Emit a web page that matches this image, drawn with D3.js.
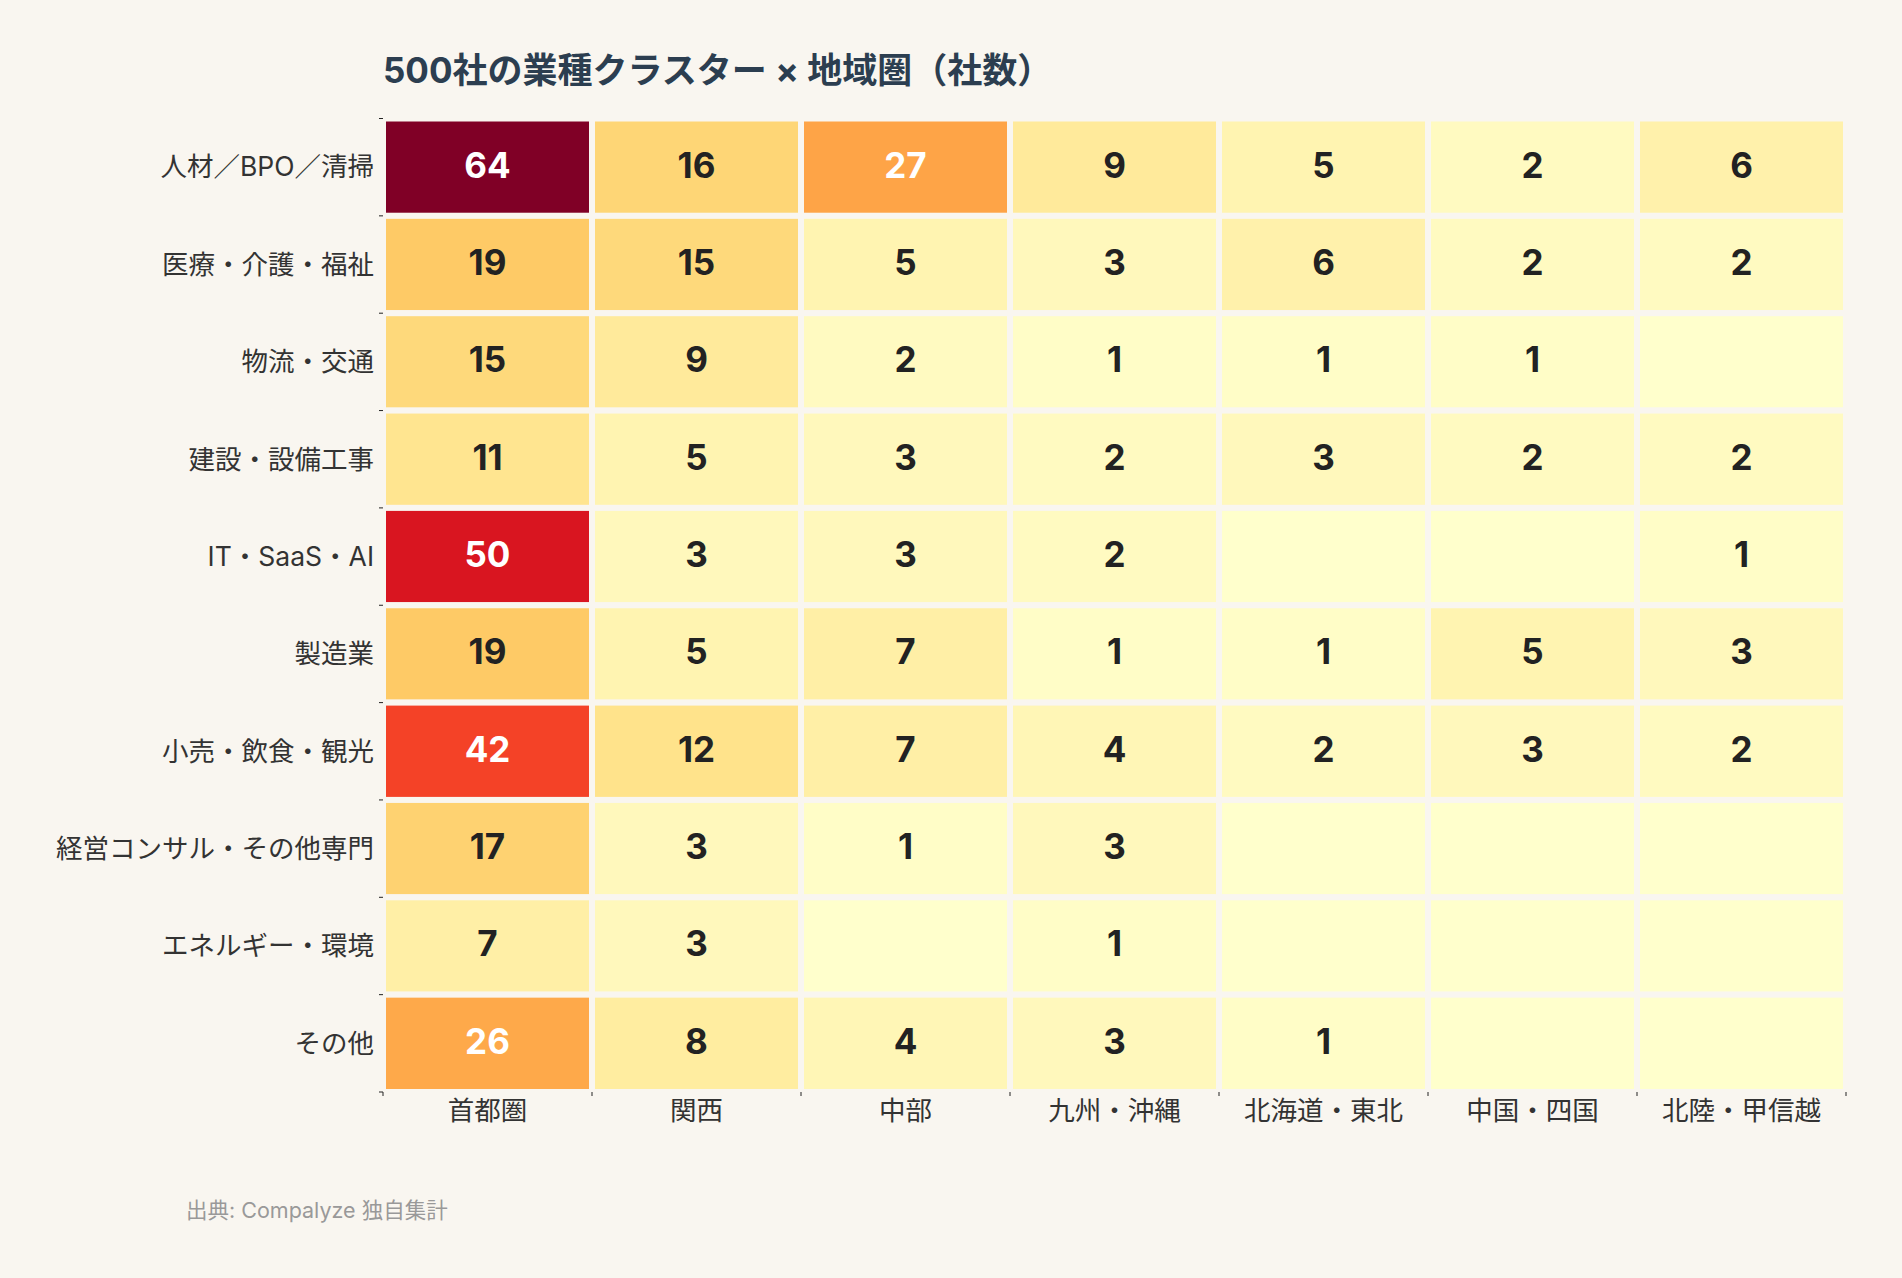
<!DOCTYPE html>
<html>
<head>
    <meta charset="utf-8">
    <title>500社の業種クラスター × 地域圏（社数）</title>
    <script src="https://d3js.org/d3.v7.min.js"></script>
    <style>
        body {
            margin: 0;
            background: #f9f6f0;
            font-family: Inter, "Noto Sans CJK JP", sans-serif;
        }
        .title {
            font-size: 35px;
            font-weight: bold;
            fill: #2c3e50;
        }
        .row-label, .col-label {
            font-size: 26.5px;
            fill: #333;
        }
        .cell-value {
            font-size: 35px;
            font-weight: bold;
        }
        .source {
            font-size: 21.5px;
            fill: #999;
        }
    </style>
</head>
<body>
    <div id="chart"></div>

    <script>
        const industries = ["人材／BPO／清掃", "医療・介護・福祉", "物流・交通", "建設・設備工事", "IT・SaaS・AI",
                            "製造業", "小売・飲食・観光", "経営コンサル・その他専門", "エネルギー・環境", "その他"];
        const regions = ["首都圏", "関西", "中部", "九州・沖縄", "北海道・東北", "中国・四国", "北陸・甲信越"];

        // one row per industry, columns follow regions
        const counts = [
            [64, 16, 27, 9, 5, 2, 6],
            [19, 15, 5, 3, 6, 2, 2],
            [15, 9, 2, 1, 1, 1, 0],
            [11, 5, 3, 2, 3, 2, 2],
            [50, 3, 3, 2, 0, 0, 1],
            [19, 5, 7, 1, 1, 5, 3],
            [42, 12, 7, 4, 2, 3, 2],
            [17, 3, 1, 3, 0, 0, 0],
            [7, 3, 0, 1, 0, 0, 0],
            [26, 8, 4, 3, 1, 0, 0]
        ];

        const W = 1902, H = 1278;
        const bg = "#f9f6f0";

        const cells = [];
        industries.forEach((ind, i) => {
            regions.forEach((reg, j) => {
                cells.push({ ind: ind, reg: reg, value: counts[i][j] });
            });
        });

        const svg = d3.select("#chart")
                      .append("svg")
                      .attr("width", W)
                      .attr("height", H);

        svg.append("rect")
           .attr("width", W)
           .attr("height", H)
           .attr("fill", bg);

        const x = d3.scaleBand().domain(regions).range([383, 1846]);
        const y = d3.scaleBand().domain(industries).range([118.5, 1092]);

        const color = d3.scaleSequential(d3.interpolateYlOrRd)
                        .domain([0, d3.max(cells, d => d.value)]);

        svg.append("text")
           .attr("class", "title")
           .attr("x", 383)
           .attr("y", 83)
           .text("500社の業種クラスター × 地域圏（社数）");

        // cells, the background-coloured stroke makes the gaps
        svg.selectAll(".cell")
           .data(cells)
           .enter()
           .append("rect")
           .attr("class", "cell")
           .attr("x", d => x(d.reg))
           .attr("y", d => y(d.ind))
           .attr("width", x.bandwidth())
           .attr("height", y.bandwidth())
           .attr("fill", d => color(d.value))
           .attr("stroke", bg)
           .attr("stroke-width", 6);

        svg.selectAll(".cell-value")
           .data(cells.filter(d => d.value > 0))
           .enter()
           .append("text")
           .attr("class", "cell-value")
           .attr("x", d => x(d.reg) + x.bandwidth() / 2)
           .attr("y", d => y(d.ind) + y.bandwidth() / 2)
           .attr("text-anchor", "middle")
           .attr("dy", "0.3em")
           .attr("fill", d => d.value > 20 ? "#fff" : "#222")
           .text(d => d.value);

        // small tick marks on the band edges
        const yEdges = industries.map(d => y(d)).concat([y.range()[1]]);
        const xEdges = regions.map(d => x(d)).concat([x.range()[1]]);

        svg.selectAll(".ytick")
           .data(yEdges)
           .enter()
           .append("line")
           .attr("x1", 379).attr("x2", 383)
           .attr("y1", d => d).attr("y2", d => d)
           .attr("stroke", "#222");

        svg.selectAll(".xtick")
           .data(xEdges)
           .enter()
           .append("line")
           .attr("x1", d => d).attr("x2", d => d)
           .attr("y1", 1092).attr("y2", 1096)
           .attr("stroke", "#222");

        svg.selectAll(".row-label")
           .data(industries)
           .enter()
           .append("text")
           .attr("class", "row-label")
           .attr("x", 374)
           .attr("y", d => y(d) + y.bandwidth() / 2)
           .attr("dy", "0.35em")
           .attr("text-anchor", "end")
           .text(d => d);

        svg.selectAll(".col-label")
           .data(regions)
           .enter()
           .append("text")
           .attr("class", "col-label")
           .attr("x", d => x(d) + x.bandwidth() / 2)
           .attr("y", 1120)
           .attr("text-anchor", "middle")
           .text(d => d);

        svg.append("text")
           .attr("class", "source")
           .attr("x", 186)
           .attr("y", 1218)
           .text("出典: Compalyze 独自集計");
    </script>
</body>
</html>
